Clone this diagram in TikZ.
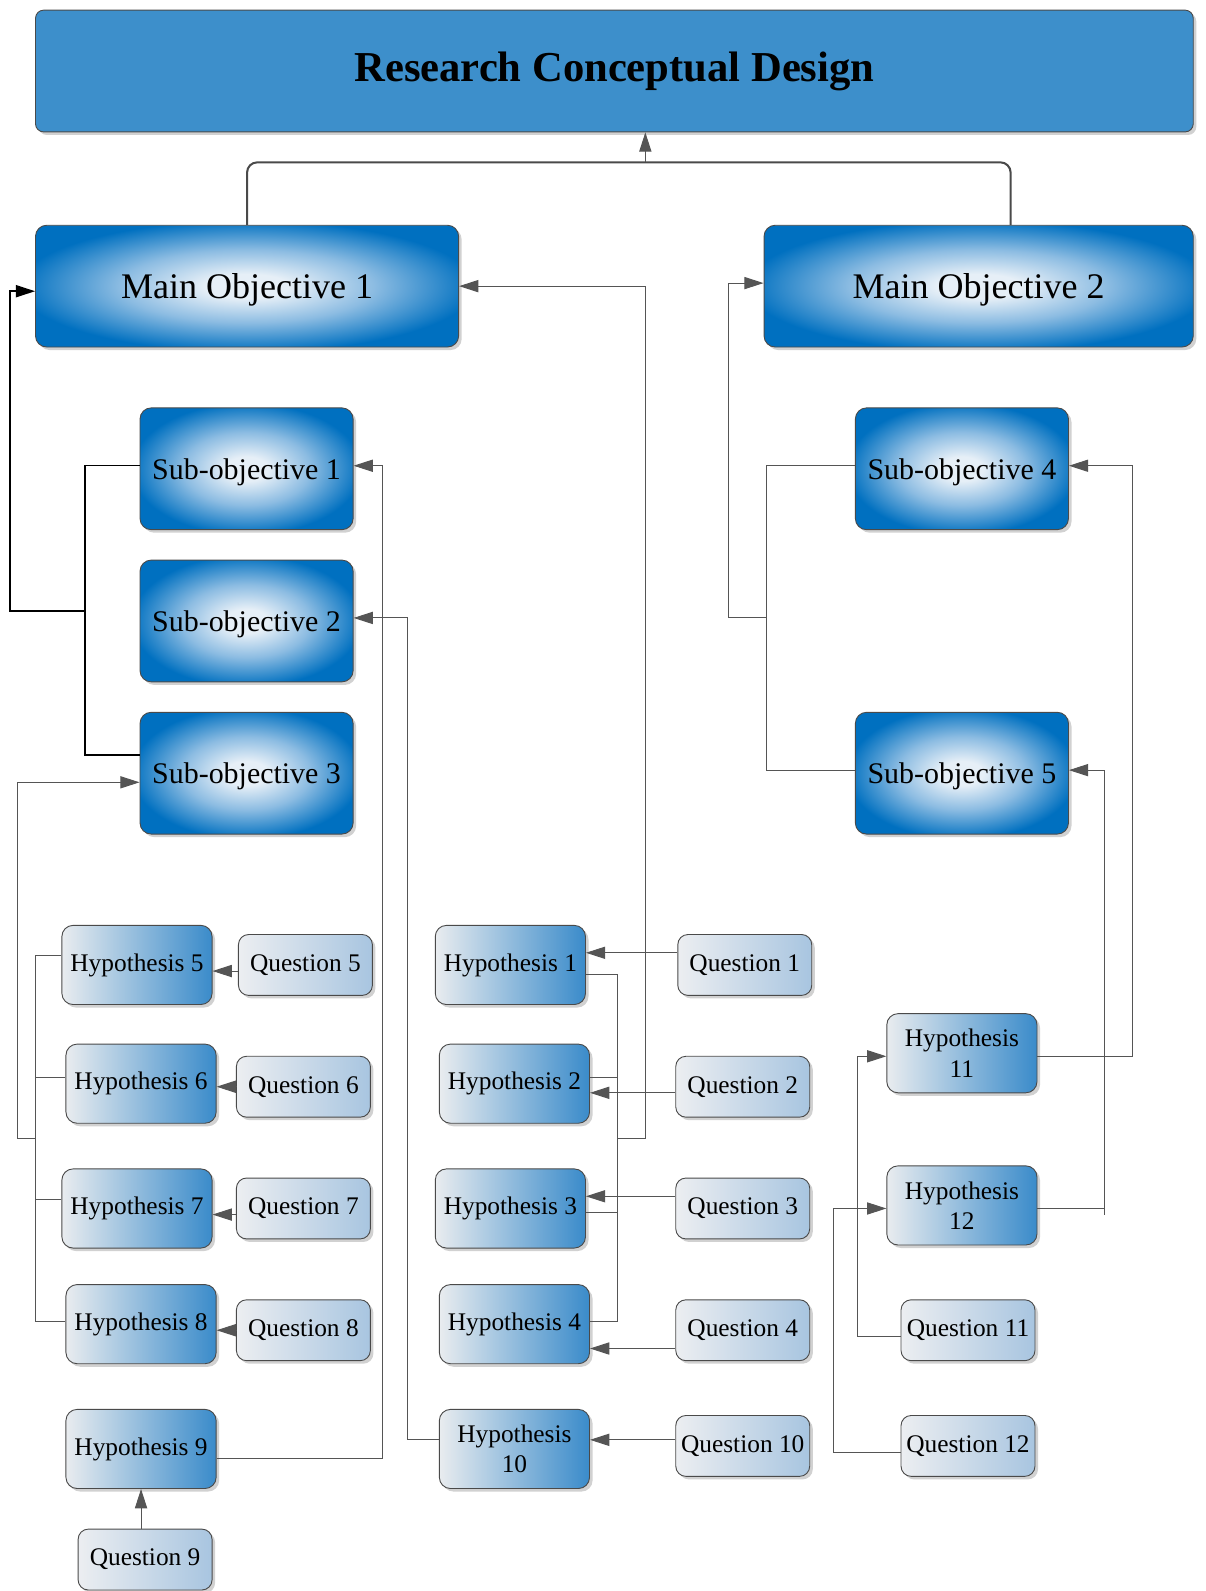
\documentclass[tikz,border=0pt]{standalone}
\usepackage{fontspec}
\setmainfont{Liberation Serif}
\usetikzlibrary{arrows.meta,shadows}
\definecolor{objblue}{HTML}{0070C0}
\definecolor{glowc}{HTML}{E6EFF7}
\definecolor{glowm}{HTML}{8CBCE2}
\definecolor{titleblue}{HTML}{3D8FCB}
\definecolor{hypL}{HTML}{E9ECEF}
\definecolor{hypR}{HTML}{3A8BCA}
\definecolor{qL}{HTML}{ECEEF1}
\definecolor{qR}{HTML}{A8C5E0}
\definecolor{edgec}{HTML}{4A4A4A}
\definecolor{connc}{HTML}{555555}
\pgfdeclareradialshading{objglow}{\pgfpoint{0bp}{0bp}}{color(0bp)=(glowc); color(5bp)=(glowc); color(15bp)=(glowm); color(27bp)=(objblue); color(50bp)=(objblue)}
\tikzset{
  base/.style={draw=edgec, line width=0.9pt, rounded corners=11pt, inner sep=0pt, align=center, text=black,
    drop shadow={shadow xshift=3pt,shadow yshift=-3pt,opacity=0.18,fill=black}},
  objbox/.style={base, shading=objglow, minimum height=120pt, text depth=-4pt},
  mainobj/.style={objbox, font=\fontsize{35.5}{40}\selectfont},
  subobj/.style={objbox, minimum width=210pt, font=\fontsize{29.5}{34}\selectfont},
  hypbox/.style={base, left color=hypL, right color=hypR, minimum width=148pt, minimum height=78pt, font=\fontsize{25}{30}\selectfont},
  qbox/.style={base, left color=qL, right color=qR, minimum width=132pt, minimum height=60pt, rounded corners=10pt, font=\fontsize{25}{30}\selectfont},
  conn/.style={draw=connc, line width=1pt},
  arr/.style={conn, -{Triangle[length=19pt,width=12pt]}},
  blk/.style={draw=black, line width=1.5pt},
}
\begin{document}
\begin{tikzpicture}[x=1pt,y=-1pt]
\useasboundingbox (0,0) rectangle (1188,1568);
% nodes
\node[base, fill=titleblue, rounded corners=8pt, minimum width=1141pt, minimum height=120pt, font=\bfseries\fontsize{42}{48}\selectfont] (title) at (605.5,70) {Research Conceptual Design};
\node[mainobj, minimum width=417pt] (mo1) at (243.5,282) {Main Objective 1};
\node[mainobj, minimum width=423pt] (mo2) at (964.5,282) {Main Objective 2};
\node[subobj] (so1) at (243,462) {Sub-objective 1};
\node[subobj] (so2) at (243,612) {Sub-objective 2};
\node[subobj] (so3) at (243,762) {Sub-objective 3};
\node[subobj] (so4) at (948,462) {Sub-objective 4};
\node[subobj] (so5) at (948,762) {Sub-objective 5};
\node[hypbox] (h5) at (135,951) {Hypothesis 5};
\node[hypbox] (h6) at (139,1068) {Hypothesis 6};
\node[hypbox] (h7) at (135,1191) {Hypothesis 7};
\node[hypbox] (h8) at (139,1305) {Hypothesis 8};
\node[hypbox] (h9) at (139,1428) {Hypothesis 9};
\node[qbox] (q5) at (301,951) {Question 5};
\node[qbox] (q6) at (299,1071) {Question 6};
\node[qbox] (q7) at (299,1191) {Question 7};
\node[qbox] (q8) at (299,1311) {Question 8};
\node[qbox] (q9) at (143,1537) {Question 9};
\node[hypbox] (h1) at (503,951) {Hypothesis 1};
\node[hypbox] (h2) at (507,1068) {Hypothesis 2};
\node[hypbox] (h3) at (503,1191) {Hypothesis 3};
\node[hypbox] (h4) at (507,1305) {Hypothesis 4};
\node[hypbox] (h10) at (507,1428) {Hypothesis\\10};
\node[qbox] (q1) at (734,951) {Question 1};
\node[qbox] (q2) at (732,1071) {Question 2};
\node[qbox] (q3) at (732,1191) {Question 3};
\node[qbox] (q4) at (732,1311) {Question 4};
\node[qbox] (q10) at (732,1425) {Question 10};
\node[hypbox] (h11) at (948,1038) {Hypothesis\\11};
\node[hypbox] (h12) at (948,1188) {Hypothesis\\12};
\node[qbox] (q11) at (954,1311) {Question 11};
\node[qbox] (q12) at (954,1425) {Question 12};
% top connector
\coordinate (tj) at (636,160);
\draw[draw=edgec, line width=2pt, rounded corners=10pt] (mo1.north) |- (tj) -| ([xshift=31.5pt]mo2.north);
\draw[arr] (tj) -- (title.south -| tj);
% left black tree
\coordinate (bj) at (84,602);
\draw[blk] ([yshift=3pt]so1.west) -| (bj) |- ([yshift=18pt]so3.west);
\draw[blk, -{Triangle[length=19pt,width=12pt]}] (bj) -- ++(-74,0) |- ([yshift=-5pt]mo1.west);
% right gray tree
\coordinate (gj) at (755,609);
\draw[conn] ([yshift=3pt]so4.west) -| (gj) |- ([yshift=3pt]so5.west);
\draw[arr] (gj) -- ++(-37,0) |- ([yshift=3pt]mo2.west);
% hypotheses 1-4 bus
\coordinate (mj) at (609,1122);
\draw[conn] ([yshift=-9pt]h1.east) -| (mj);
\draw[conn] ([yshift=6pt]h2.east) -| (mj);
\draw[conn] ([yshift=-4pt]h3.east) -| (mj);
\draw[conn] ([yshift=3pt]h4.east) -| (mj);
\draw[arr] (mj) -- ++(27,0) |- (mo1.east);
% questions to hypotheses (middle)
\draw[arr] ([yshift=12pt]q1.west) -- ([yshift=12pt]q1.west -| h1.east);
\draw[arr] ([yshift=-6pt]q2.west) -- ([yshift=-6pt]q2.west -| h2.east);
\draw[arr] ([yshift=12pt]q3.west) -- ([yshift=12pt]q3.west -| h3.east);
\draw[arr] ([yshift=-18pt]q4.west) -- ([yshift=-18pt]q4.west -| h4.east);
\draw[arr] ([yshift=6pt]q10.west) -- ([yshift=6pt]q10.west -| h10.east);
% hypotheses 5-8 bus
\coordinate (lj) at (35,1122);
\draw[conn] ([yshift=9pt]h5.west) -| (lj);
\draw[conn] ([yshift=6pt]h6.west) -| (lj);
\draw[conn] ([yshift=9pt]h7.west) -| (lj);
\draw[conn] ([yshift=3pt]h8.west) -| (lj);
\draw[arr] (lj) -- ++(-18,0) |- ([yshift=-9pt]so3.west);
\draw[arr] ([yshift=-6pt]q5.west) -- ([yshift=-6pt]q5.west -| h5.east);
\draw[arr] (q6.west) -- (q6.west -| h6.east);
\draw[arr] ([yshift=-6pt]q7.west) -- ([yshift=-6pt]q7.west -| h7.east);
\draw[arr] (q8.west) -- (q8.west -| h8.east);
% H9, H10 to sub-objectives
\draw[arr] ([yshift=-9pt]h9.east) -- ++(164,0) |- ([yshift=3pt]so1.east);
\draw[arr] ([yshift=9pt]h10.west) -- ++(-31,0) |- ([yshift=3pt]so2.east);
\draw[arr] (h9.south |- q9.north) -- (h9.south);
% right side
\draw[arr] ([yshift=-3pt]h11.east) -- ++(94,0) |- ([yshift=3pt]so4.east);
\draw[conn] ([yshift=-3pt]h12.east) -- ++(66,0) coordinate (c12) -- ++(0,6);
\draw[arr] (c12) |- ([yshift=3pt]so5.east);
\draw[arr] ([yshift=-6pt]q11.west) -- ++(-42,0) |- ([yshift=-3pt]h11.west);
\draw[arr] ([yshift=-6pt]q12.west) -- ++(-66,0) |- ([yshift=-3pt]h12.west);
\end{tikzpicture}
\end{document}
